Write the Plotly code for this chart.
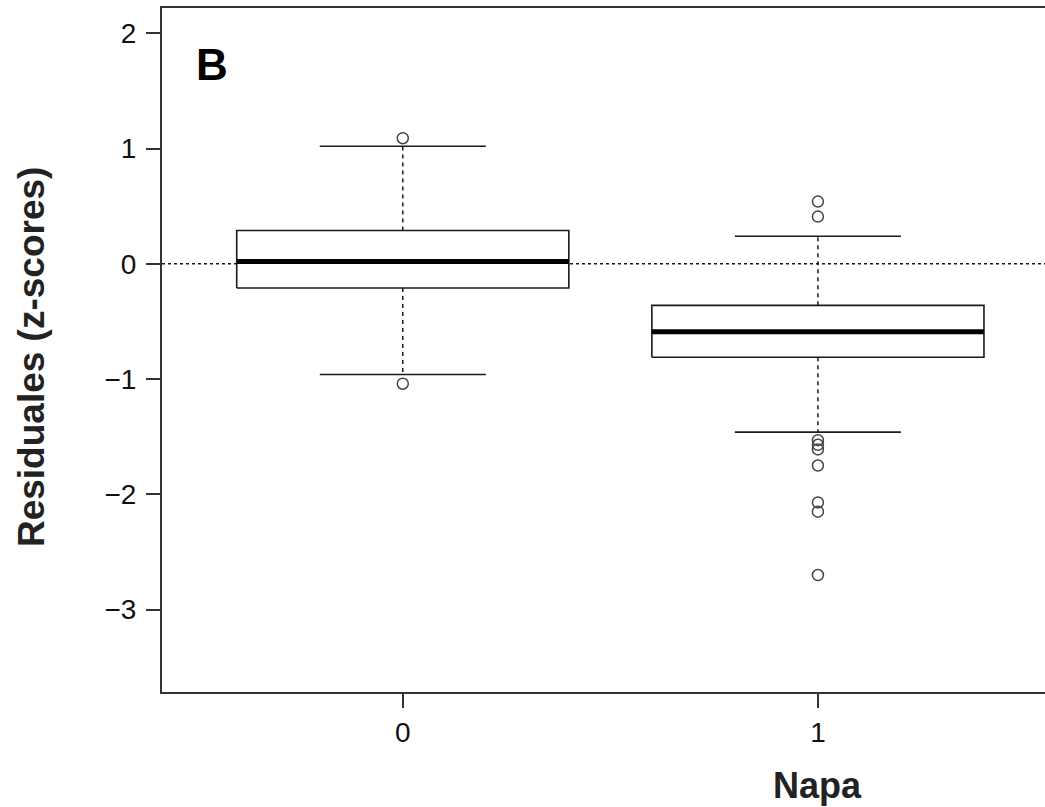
import plotly.graph_objects as go

# Residual z-scores summarised per Napa group
categories = ["0", "1"]
lower_whisker = [-0.96, -1.46]
q1 = [-0.21, -0.81]
median = [0.02, -0.59]
q3 = [0.29, -0.36]
upper_whisker = [1.02, 0.24]
outliers = [
    [1.09, -1.04],
    [0.54, 0.41, -1.53, -1.57, -1.61, -1.75, -2.07, -2.15, -2.70],
]

positions = [i + 1 for i in range(len(categories))]
half_width = 0.4
cap_half = 0.2
ink = "#1a1a1a"

fig = go.Figure()

# reference line at zero
fig.add_shape(type="line", xref="paper", x0=0, x1=1, yref="y", y0=0, y1=0,
              line=dict(color=ink, width=1.5, dash="dot"), layer="below")

for p, lo, a, m, b, hi, out in zip(positions, lower_whisker, q1, median, q3,
                                   upper_whisker, outliers):
    # whiskers (dashed) and caps
    for y0, y1 in ((b, hi), (a, lo)):
        fig.add_trace(go.Scatter(x=[p, p], y=[y0, y1], mode="lines",
                                 line=dict(color=ink, width=1.5, dash="4px,4px")))
    for yc in (lo, hi):
        fig.add_trace(go.Scatter(x=[p - cap_half, p + cap_half], y=[yc, yc],
                                 mode="lines", line=dict(color=ink, width=1.6)))
    # box
    fig.add_trace(go.Scatter(
        x=[p - half_width, p + half_width, p + half_width, p - half_width, p - half_width],
        y=[a, a, b, b, a], mode="lines", fill="toself", fillcolor="white",
        line=dict(color=ink, width=1.6)))
    # median
    fig.add_trace(go.Scatter(x=[p - half_width, p + half_width], y=[m, m],
                             mode="lines", line=dict(color="black", width=5)))
    # outlying points
    fig.add_trace(go.Scatter(x=[p] * len(out), y=out, mode="markers",
                             marker=dict(symbol="circle-open", size=11,
                                         color="#444", line=dict(width=1.5))))

fig.update_layout(
    width=1045, height=807,
    margin=dict(l=162, r=0, t=8, b=115),
    paper_bgcolor="white", plot_bgcolor="white",
    showlegend=False, hovermode=False,
    font=dict(family="Liberation Sans, Arial, sans-serif", color="#111"),
    annotations=[
        dict(text="<b>B</b>", xref="paper", yref="paper", x=0.036, y=0.918,
             xanchor="left", yanchor="middle", showarrow=False,
             font=dict(size=44, color="black")),
        dict(text="<b>Napa</b>", xref="paper", yref="paper", x=0.742, y=-0.137,
             xanchor="center", yanchor="middle", showarrow=False,
             font=dict(size=36, color="#222")),
        dict(text="<b>Residuales (z-scores)</b>", xref="paper", yref="paper",
             x=-0.147, y=0.49, textangle=-90, xanchor="center", yanchor="middle",
             showarrow=False, font=dict(size=37, color="#222")),
    ],
)

fig.update_xaxes(
    range=[0.42, 2.547], tickvals=positions, ticktext=categories,
    showgrid=False, zeroline=False, showline=True, mirror=True,
    linecolor="#333", linewidth=2, ticks="outside", ticklen=14, tickwidth=2,
    tickcolor="#333", tickfont=dict(size=28, color="#111"),
)
fig.update_yaxes(
    range=[-3.715, 2.22], tickvals=[-3, -2, -1, 0, 1, 2],
    ticktext=["\u22123", "\u22122", "\u22121", "0", "1", "2"],
    showgrid=False, zeroline=False, showline=True, mirror=False,
    linecolor="#333", linewidth=2, ticks="outside", ticklen=14, tickwidth=2,
    tickcolor="#333", tickfont=dict(size=28, color="#111"), ticklabelstandoff=4,
)

fig.write_html("out.html")
